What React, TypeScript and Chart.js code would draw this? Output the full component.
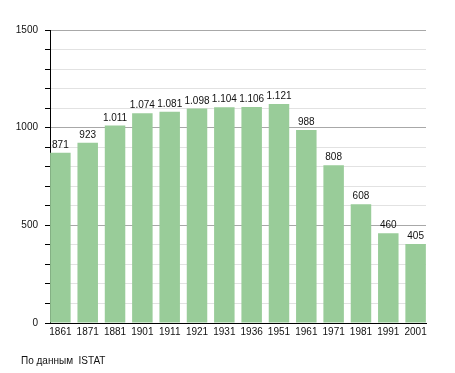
import React, { useEffect, useRef } from "react";
import { Chart, registerables } from "chart.js";

Chart.register(...registerables);

const years = ["1861", "1871", "1881", "1901", "1911", "1921", "1931", "1936", "1951", "1961", "1971", "1981", "1991", "2001"];
const population = [871, 923, 1011, 1074, 1081, 1098, 1104, 1106, 1121, 988, 808, 608, 460, 405];
const yTickLabels = [0, 500, 1000, 1500];
const sourceNote = "По данным  ISTAT";

const FONT = "'Liberation Sans', Arial, sans-serif";

const fmt = (v: number) => String(v).replace(/\B(?=(\d{3})+(?!\d))/g, ".");

const valueLabels = {
  id: "valueLabels",
  afterDatasetsDraw(chart: any) {
    const ctx = chart.ctx;
    const meta = chart.getDatasetMeta(0);
    ctx.save();
    ctx.font = `10px ${FONT}`;
    ctx.fillStyle = "#111";
    ctx.textAlign = "center";
    ctx.textBaseline = "alphabetic";
    meta.data.forEach((el: any, i: number) => {
      ctx.fillText(fmt(population[i]), el.x, el.y - 5);
    });
    ctx.restore();
  },
};

export default function App() {
  const ref = useRef<HTMLCanvasElement | null>(null);
  useEffect(() => {
    if (!ref.current) return;
    const chart = new Chart(ref.current, {
      type: "bar",
      data: {
        datasets: [
          {
            data: population.map((v, i) => ({ x: i, y: v })),
            backgroundColor: "#99cc99",
            borderWidth: 0,
            barPercentage: 0.75,
            categoryPercentage: 1,
          },
        ],
      },
      options: {
        responsive: false,
        animation: false,
        layout: { padding: { left: 0, right: 29, top: 30, bottom: 30 } },
        plugins: { legend: { display: false }, tooltip: { enabled: false } },
        scales: {
          x: {
            type: "linear",
            offset: false,
            min: -0.38,
            max: 13.38,
            grid: { display: false, offset: false, drawTicks: false, tickLength: 0 },
            border: { display: true, color: "#000", width: 1 },
            afterBuildTicks: (scale: any) => {
              scale.ticks = years.map((_, i) => ({ value: i }));
            },
            afterFit: (scale: any) => {
              scale.height = 20;
            },
            ticks: {
              autoSkip: false,
              maxRotation: 0,
              padding: 3,
              color: "#111",
              font: { family: FONT, size: 10 },
              callback: (v: any) => years[v] ?? "",
            },
          },
          y: {
            min: 0,
            max: 1500,
            afterFit: (scale: any) => {
              scale.width = 50;
            },
            grid: {
              color: (c: any) => (c.tick && c.tick.value % 500 === 0 ? "#a8a8a8" : "#e2e2e2"),
              tickColor: "#000",
              tickLength: 5,
            },
            border: { display: true, color: "#000", width: 1 },
            ticks: {
              stepSize: 100,
              autoSkip: false,
              padding: 7,
              color: "#111",
              font: { family: FONT, size: 10 },
              callback: (v: any) => (yTickLabels.includes(Number(v)) ? String(v) : ""),
            },
          },
        },
      },
      plugins: [valueLabels],
    });
    return () => chart.destroy();
  }, []);
  return (
    <div style={{ position: "absolute", left: 0, top: 0, width: 455, height: 373, background: "#fff" }}>
      <canvas ref={ref} width={455} height={373} style={{ display: "block" }} />
      <div
        style={{
          position: "absolute",
          left: 21,
          top: 355,
          fontFamily: FONT,
          fontSize: 10,
          whiteSpace: "pre",
          color: "#111",
          lineHeight: "12px",
        }}
      >
        {sourceNote}
      </div>
    </div>
  );
}
